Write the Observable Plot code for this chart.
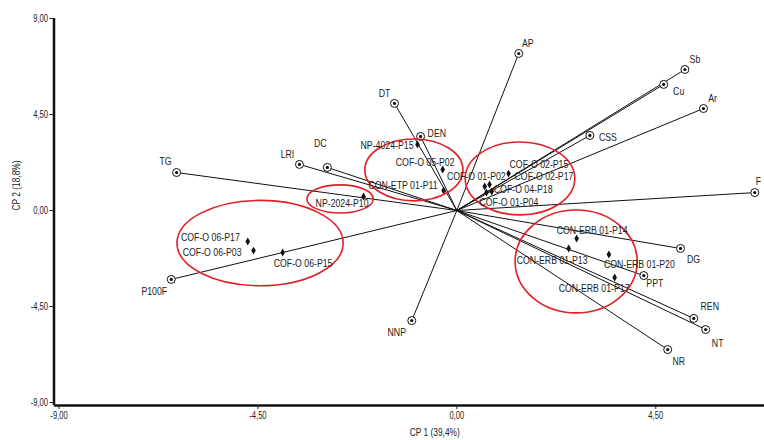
<!DOCTYPE html>
<html>
<head>
<meta charset="utf-8">
<script src="https://cdn.jsdelivr.net/npm/d3@7"></script>
<script src="https://cdn.jsdelivr.net/npm/@observablehq/plot@0.6"></script>
<style>
  html, body { margin: 0; padding: 0; background: #fff; }
  #chart svg { display: block; }
</style>
</head>
<body>
<div id="chart"></div>
<script>
// ---- Data ----
const varNames = ["AP", "Sb", "Cu", "Ar", "CSS", "F", "DT", "DEN", "DC", "LRI", "TG", "P100F", "NNP", "DG", "PPT", "REN", "NT", "NR"];
const varX = [1.40, 5.16, 4.68, 5.58, 3.01, 6.74, -1.41, -0.82, -2.93, -3.56, -6.34, -6.46, -1.02, 5.06, 4.23, 5.36, 5.63, 4.77];
const varY = [7.36, 6.61, 5.91, 4.78, 3.52, 0.84, 5.02, 3.47, 2.02, 2.16, 1.78, -3.23, -5.16, -1.78, -3.05, -5.06, -5.58, -6.52];

const sampleNames = ["NP-4024-P15", "COF-O 05-P02", "CON-ETP 01-P11", "NP-2024-P10",
  "COF-O 02-P15", "COF-O 01-P02", "COF-O 02-P17", "COF-O 04-P18", "COF-O 01-P04",
  "COF-O 06-P17", "COF-O 06-P03", "COF-O 06-P15",
  "CON-ERB 01-P14", "CON-ERB 01-P13", "CON-ERB 01-P20", "CON-ERB 01-P17"];
const sampleX = [-0.89, -0.32, -0.30, -2.11, 0.74, 0.63, 1.17, 0.79, 0.67, -4.73, -4.60, -3.94, 2.71, 2.53, 3.44, 3.57];
const sampleY = [3.09, 1.92, 0.94, 0.66, 1.22, 1.13, 1.73, 0.89, 0.84, -1.45, -1.88, -1.97, -1.31, -1.78, -2.06, -3.14];

// group annotations (red ellipses), in data units
const groupCX = [-4.44, -2.63, -0.96, 1.44, 2.71];
const groupCY = [-1.55, 0.52, 1.88, 1.48, -2.41];
const groupRX = [1.88, 0.75, 1.11, 1.24, 1.38];
const groupRY = [2.00, 0.66, 1.45, 1.71, 2.41];

const xTicks = [-9, -4.5, 0, 4.5];
const yTicks = [-9, -4.5, 0, 4.5, 9];
const xTitle = "CP 1 (39,4%)";
const yTitle = "CP 2 (18,8%)";

// ---- Layout (label offsets in px) ----
const varLabelOffsets = {
  "AP": [9, -10, "middle"], "Sb": [10, -10, "middle"], "Cu": [15, 7, "middle"], "Ar": [9, -10, "middle"],
  "CSS": [9, 2, "start"], "F": [1, -11, "start"], "DT": [-10, -10, "middle"], "DEN": [7, -3, "start"],
  "DC": [-7, -24, "middle"], "LRI": [-12, -10, "middle"], "TG": [-11, -11, "middle"], "P100F": [-17, 12, "middle"],
  "NNP": [-15, 12, "middle"], "DG": [13, 11, "middle"], "PPT": [11, 8, "middle"], "REN": [16, -12, "middle"],
  "NT": [12, 14, "middle"], "NR": [11, 12, "middle"]
};
const sampleLabelOffsets = {
  "NP-4024-P15": [-4, 1, "end"], "COF-O 05-P02": [-17.5, -7, "middle"], "CON-ETP 01-P11": [-6, -5, "end"],
  "NP-2024-P10": [-21.5, 7, "middle"], "COF-O 02-P15": [20, -20, "start"], "COF-O 01-P02": [21, -10, "end"],
  "COF-O 02-P17": [6, 3, "start"], "COF-O 04-P18": [2, -2, "start"], "COF-O 01-P04": [-7, 10, "start"],
  "COF-O 06-P17": [-8, -4, "end"], "COF-O 06-P03": [-12, 2, "end"], "COF-O 06-P15": [-9, 11, "start"],
  "CON-ERB 01-P14": [-20, -8, "start"], "CON-ERB 01-P13": [-52, 12, "start"],
  "CON-ERB 01-P20": [-5, 10, "start"], "CON-ERB 01-P17": [-56, 11, "start"]
};

const vars = varNames.map((n, i) => ({name: n, x: varX[i], y: varY[i]}));
const samples = sampleNames.map((n, i) => ({name: n, x: sampleX[i], y: sampleY[i]}));
const groups = groupCX.map((c, i) => ({cx: c, cy: groupCY[i], rx: groupRX[i], ry: groupRY[i]}));

const FONT = "'Liberation Sans', Arial, sans-serif";
const fmt = v => v.toFixed(2).replace(".", ",");

const ellipseMark = (index, scales, values, dimensions, context) => {
  const g = d3.create("svg:g");
  for (const e of groups) {
    const px = scales.x(e.cx), py = scales.y(e.cy);
    const rx = Math.abs(scales.x(e.cx + e.rx) - px);
    const ry = Math.abs(scales.y(e.cy + e.ry) - py);
    g.append("ellipse").attr("cx", px).attr("cy", py).attr("rx", rx).attr("ry", ry)
      .attr("fill", "none").attr("stroke", "#e31e24").attr("stroke-width", 1.6);
  }
  return g.node();
};

const marks = [
  // axis lines
  Plot.ruleX([-9], {y1: -9.15, y2: 9, dx: -5, stroke: "#111", strokeWidth: 2.5}),
  Plot.ruleY([-9], {x1: -9.1, x2: 6.96, dy: 3, stroke: "#111", strokeWidth: 2.5}),
  Plot.axisY({ticks: yTicks, tickFormat: fmt, tickSize: 4, dx: -5, tickPadding: 2, fontSize: 10, fontFamily: FONT, label: null, color: "#222"}),
  Plot.axisX({ticks: xTicks, tickFormat: fmt, tickSize: 4, dy: 3, tickPadding: 2, fontSize: 10, fontFamily: FONT, label: null, color: "#222"}),
  // vectors
  Plot.link(vars, {x1: () => 0, y1: () => 0, x2: "x", y2: "y", stroke: "#111", strokeWidth: 1}),
  Plot.dot(vars, {x: "x", y: "y", r: 4, stroke: "#111", fill: "white", strokeWidth: 1}),
  Plot.dot(vars, {x: "x", y: "y", r: 1.6, fill: "#111", stroke: "none"}),
  // samples
  Plot.dot(samples, {x: "x", y: "y", symbol: "diamond", r: 2.4, fill: "#111", stroke: "none"}),
  ellipseMark
];

for (const d of vars) {
  const [dx, dy, anchor] = varLabelOffsets[d.name];
  marks.push(Plot.text([d], {x: "x", y: "y", text: "name", dx, dy, textAnchor: anchor, fontSize: 11.5, fontFamily: FONT, fill: "#222"}));
}
for (const d of samples) {
  const [dx, dy, anchor] = sampleLabelOffsets[d.name];
  marks.push(Plot.text([d], {x: "x", y: "y", text: "name", dx, dy, textAnchor: anchor, fontSize: 11.5, fontFamily: FONT, fill: "#222"}));
}
// axis titles
marks.push(Plot.text([xTitle], {frameAnchor: "bottom", x: () => -0.5, text: d => d, dy: 30, fontSize: 11, fontFamily: FONT, fill: "#222", lineAnchor: "middle"}));
marks.push(Plot.text([yTitle], {frameAnchor: "left", text: d => d, dx: -43, rotate: -90, fontSize: 11, fontFamily: FONT, fill: "#222"}));

const chart = Plot.plot({
  width: 764,
  height: 440,
  marginLeft: 58.5,
  marginRight: 0,
  marginTop: 18,
  marginBottom: 38,
  x: {domain: [-9, 6.96], axis: null},
  y: {domain: [-9, 9], axis: null},
  style: {background: "white", fontFamily: FONT, overflow: "visible"},
  marks
});
document.getElementById("chart").appendChild(chart);

// narrow the text (reference uses a condensed sans face)
chart.querySelectorAll("text").forEach(t => {
  const L = t.getComputedTextLength();
  if (L > 0) {
    t.setAttribute("textLength", (L * 0.76).toFixed(1));
    t.setAttribute("lengthAdjust", "spacingAndGlyphs");
  }
});
</script>
</body>
</html>
